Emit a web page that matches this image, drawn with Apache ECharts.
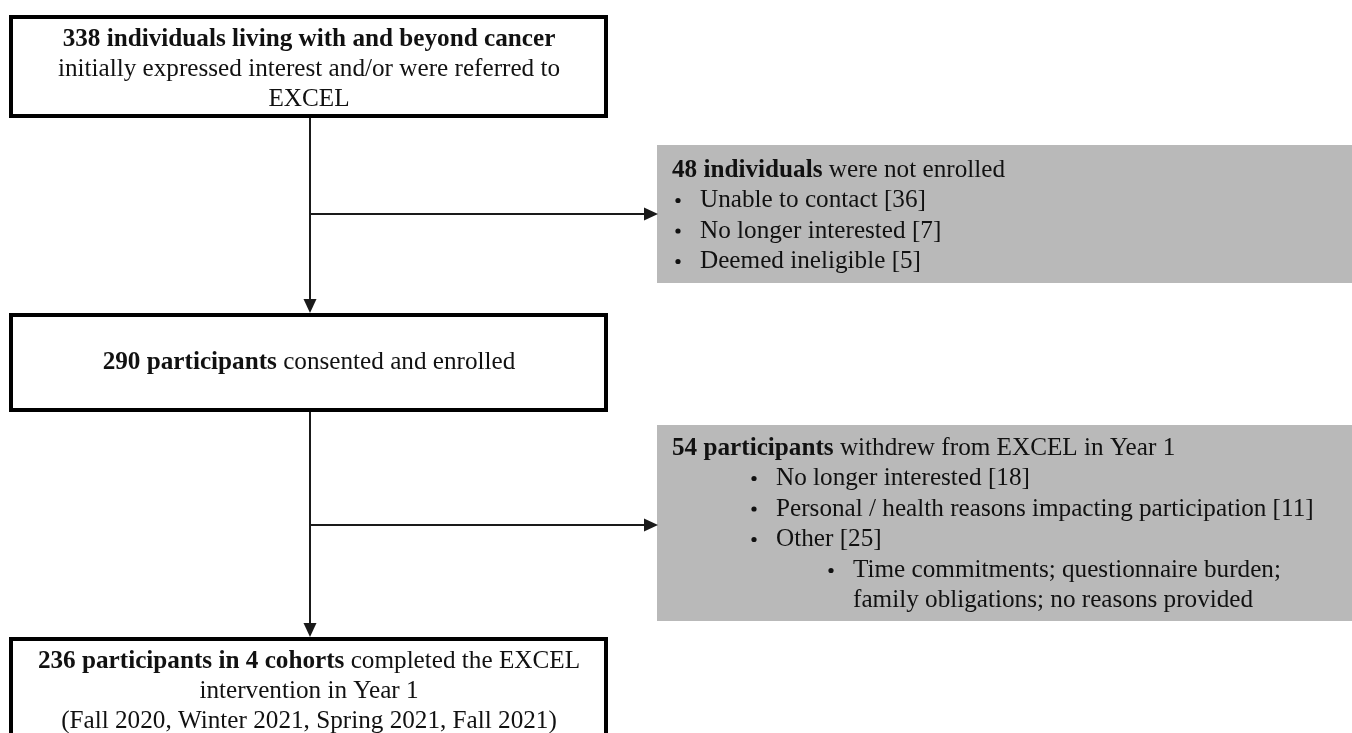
<!DOCTYPE html>
<html>
<head>
<meta charset="utf-8">
<script src="https://cdn.jsdelivr.net/npm/echarts@6/dist/echarts.min.js"></script>
<style>
html,body{margin:0;padding:0;background:#fff;}
#chart{width:1352px;height:733px;}
</style>
</head>
<body>
<div id="chart"></div>
<script>
// ---- data ----
const stageCounts = [338, 290, 236];
const cohortCount = [4];
const cohortTerms = ['Fall 2020', 'Winter 2021', 'Spring 2021', 'Fall 2021'];
const notEnrolledTotal = [48];
const notEnrolledReasons = ['Unable to contact', 'No longer interested', 'Deemed ineligible'];
const notEnrolledCounts = [36, 7, 5];
const withdrawTotal = [54];
const withdrawReasons = ['No longer interested', 'Personal / health reasons impacting participation', 'Other'];
const withdrawCounts = [18, 11, 25];
const otherDetail = ['Time commitments; questionnaire burden;', 'family obligations; no reasons provided'];

// ---- drawing ----
const FONT = '"Liberation Serif", "Times New Roman", serif';
const FS = 25.2;
const LH = 30;
const DY = 1.5;
const chart = echarts.init(document.getElementById('chart'), null, {renderer: 'canvas'});

function box(x, y, w, h) {
  return {type: 'rect', shape: {x: x, y: y, width: w, height: h},
    style: {fill: '#fff', stroke: '#000', lineWidth: 4}, z: 1};
}
function grayBox(x, y, w, h) {
  return {type: 'rect', shape: {x: x, y: y, width: w, height: h},
    style: {fill: '#b9b9b9', stroke: null}, z: 1};
}
function line(x1, y1, x2, y2) {
  return {type: 'line', shape: {x1: x1, y1: y1, x2: x2, y2: y2},
    style: {stroke: '#1a1a1a', lineWidth: 2}, z: 2};
}
function arrowDown(x, y) {
  return {type: 'polygon', shape: {points: [[x - 6.5, y - 14], [x + 6.5, y - 14], [x, y]]},
    style: {fill: '#1a1a1a'}, z: 2};
}
function arrowRight(x, y) {
  return {type: 'polygon', shape: {points: [[x - 14, y - 6.5], [x - 14, y + 6.5], [x, y]]},
    style: {fill: '#1a1a1a'}, z: 2};
}
const rich = {
  b: {fontFamily: FONT, fontSize: FS, fontWeight: 'bold', lineHeight: LH, fill: '#111'},
  n: {fontFamily: FONT, fontSize: FS, lineHeight: LH, fill: '#111'}
};
function centerText(cx, cy, txt) {
  return {type: 'text', x: cx, y: cy + DY, z: 3,
    style: {text: txt, rich: rich, align: 'center', verticalAlign: 'middle',
      fontFamily: FONT, fontSize: FS, lineHeight: LH, fill: '#111'}};
}
function leftText(x, y, txt) {
  return {type: 'text', x: x, y: y + DY, z: 3,
    style: {text: txt, rich: rich, align: 'left', verticalAlign: 'middle',
      fontFamily: FONT, fontSize: FS, lineHeight: LH, fill: '#111'}};
}
function bullet(x, y) {
  return {type: 'circle', shape: {cx: x, cy: y + DY, r: 2.6}, style: {fill: '#111'}, z: 3};
}

const els = [];
// main boxes
els.push(box(11, 17, 595, 99));
els.push(box(11, 315, 595, 95));
els.push(box(11, 639, 595, 120));
// gray boxes
els.push(grayBox(657, 145, 700, 138));
els.push(grayBox(657, 425, 700, 196));
// connectors
els.push(line(310, 118, 310, 302));
els.push(arrowDown(310, 313));
els.push(line(310, 214, 646, 214));
els.push(arrowRight(658, 214));
els.push(line(310, 412, 310, 626));
els.push(arrowDown(310, 637));
els.push(line(310, 525, 646, 525));
els.push(arrowRight(658, 525));

// box 1 text
els.push(centerText(309, 68,
  '{b|' + stageCounts[0] + ' individuals living with and beyond cancer}\n' +
  '{n|initially expressed interest and/or were referred to}\n{n|EXCEL}'));
// box 2 text
els.push(centerText(309, 361,
  '{b|' + stageCounts[1] + ' participants}{n| consented and enrolled}'));
// box 3 text
els.push(centerText(309, 690,
  '{b|' + stageCounts[2] + ' participants in ' + cohortCount[0] + ' cohorts}{n| completed the EXCEL}\n' +
  '{n|intervention in Year 1}\n{n|(' + cohortTerms.join(', ') + ')}'));

// gray box 1 text
els.push(leftText(672, 169, '{b|' + notEnrolledTotal[0] + ' individuals}{n| were not enrolled}'));
notEnrolledReasons.forEach(function (r, i) {
  const y = 199 + i * 30.5;
  els.push(bullet(678, y));
  els.push(leftText(700, y, '{n|' + r + ' [' + notEnrolledCounts[i] + ']}'));
});

// gray box 2 text
els.push(leftText(672, 447, '{b|' + withdrawTotal[0] + ' participants}{n| withdrew from EXCEL in Year 1}'));
withdrawReasons.forEach(function (r, i) {
  const y = 477 + i * 30.5;
  els.push(bullet(754, y));
  els.push(leftText(776, y, '{n|' + r + ' [' + withdrawCounts[i] + ']}'));
});
otherDetail.forEach(function (t, i) {
  const y = 569 + i * 30;
  if (i === 0) els.push(bullet(831, y));
  els.push(leftText(853, y, '{n|' + t + '}'));
});

chart.setOption({
  backgroundColor: '#fff',
  animation: false,
  graphic: {elements: els}
});
</script>
</body>
</html>
